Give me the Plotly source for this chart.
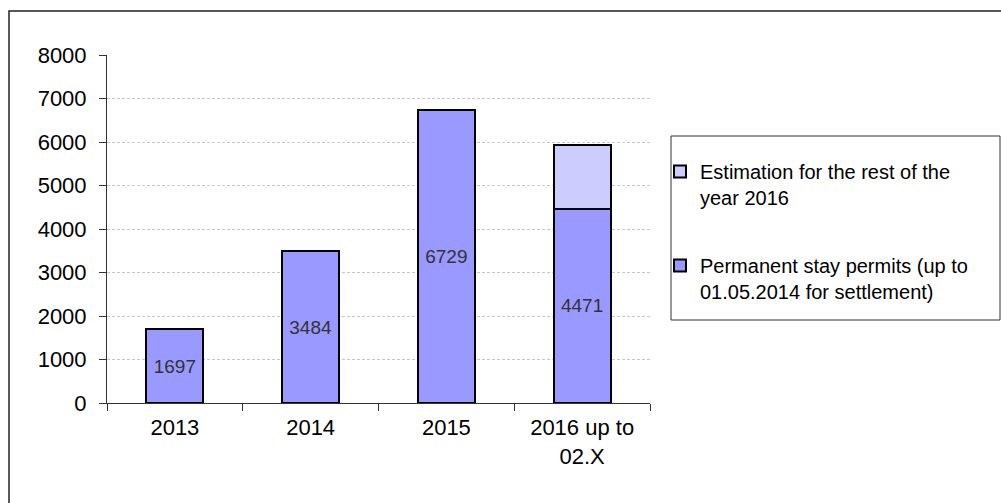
import plotly.graph_objects as go

categories = ["2013", "2014", "2015", "2016 up to<br>02.X"]
permits = [1697, 3484, 6729, 4471]
estimation = [None, None, None, 1460]
permit_labels = ["1697", "3484", "6729", "4471"]
y_ticks = [0, 1000, 2000, 3000, 4000, 5000, 6000, 7000, 8000]

name_permits = "Permanent stay permits (up to<br>01.05.2014 for settlement)"
name_est = "Estimation for the rest of the<br>year 2016"

FONT = "Liberation Sans, Arial, sans-serif"

fig = go.Figure()
fig.add_trace(go.Bar(
    x=categories, y=permits, name=name_permits,
    text=permit_labels, textposition="inside", insidetextanchor="middle",
    textfont=dict(family=FONT, size=19, color="#333333"),
    marker=dict(color="#9999FF", line=dict(color="#000000", width=2)),
    legendgroup="a", legendrank=2, hoverinfo="skip",
))
fig.add_trace(go.Bar(
    x=categories, y=estimation, name=name_est,
    marker=dict(color="#CCCCFF", line=dict(color="#000000", width=2)),
    legendgroup="b", legendrank=1, hoverinfo="skip",
))

W, H = 1001, 503
L, R, T, B = 107, 351, 55, 100
pw, ph = W - L - R, H - T - B

def px_x(p):
    return (p - L) / pw

def px_y(p):
    return (H - B - p) / ph

fig.update_layout(
    width=W, height=H,
    margin=dict(l=L, r=R, t=T, b=B, pad=0),
    barmode="stack", bargap=0.58,
    paper_bgcolor="white", plot_bgcolor="white",
    font=dict(family=FONT, size=22, color="#000000"),
    showlegend=True,
    legend=dict(
        x=px_x(660), y=px_y(152), xanchor="left", yanchor="top",
        traceorder="grouped", valign="top",
        font=dict(family=FONT, size=20, color="#000000"),
        tracegroupgap=39, bgcolor="rgba(0,0,0,0)", borderwidth=0,
    ),
    xaxis=dict(
        type="category", tickson="boundaries", ticks="outside", ticklen=7,
        tickcolor="#333333", showline=True, linecolor="#333333", linewidth=1,
        showgrid=False, tickfont=dict(size=22), ticklabelstandoff=5,
    ),
    yaxis=dict(
        range=[0, 8000], tickvals=y_ticks, ticks="outside", ticklen=7,
        tickcolor="#333333", showline=True, linecolor="#333333", linewidth=1,
        showgrid=True, gridcolor="#c8c8c8", griddash="3px,2px", gridwidth=1,
        zeroline=False, tickfont=dict(size=22), ticklabelstandoff=8,
    ),
    shapes=[
        dict(type="rect", xref="paper", yref="paper",
             x0=px_x(9), x1=px_x(1004), y0=px_y(11), y1=px_y(506),
             line=dict(color="#222222", width=1.5), fillcolor="rgba(0,0,0,0)", layer="below"),
        dict(type="rect", xref="paper", yref="paper",
             x0=px_x(671), x1=px_x(1000), y0=px_y(136), y1=px_y(320),
             line=dict(color="#333333", width=1), fillcolor="rgba(0,0,0,0)", layer="below"),
    ],
)

fig.write_html(
    "out.html",
    config={"displayModeBar": False},
    post_script="document.body.style.margin='0';document.body.style.overflow='hidden';",
)
